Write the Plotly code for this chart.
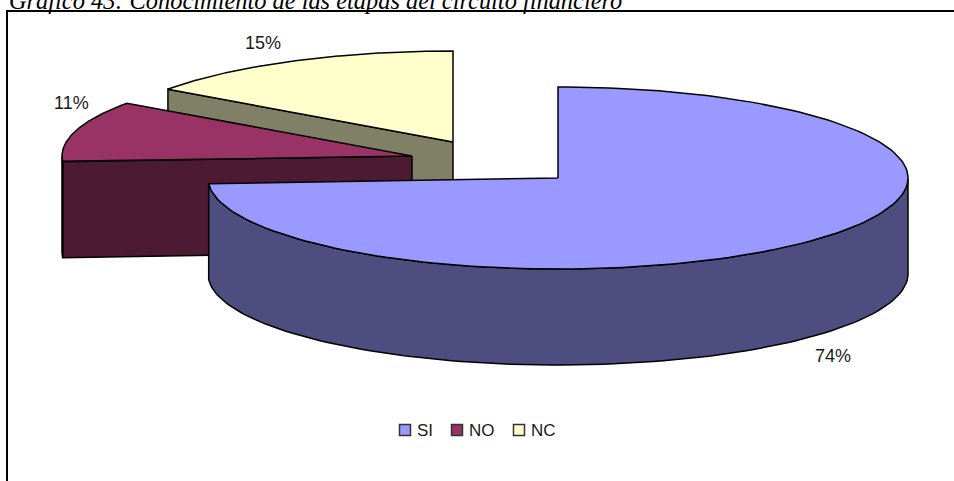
import numpy as np
import plotly.graph_objects as go

categories = ["SI", "NO", "NC"]
values = [74, 10.85, 15.15]
top_colors = ["#9999FF", "#993366", "#FFFFCC"]
wall_colors = ["#4D4D80", "#4D1A33", "#808066"]
TITLE = "Gráfico 43: Conocimiento de las etapas del circuito financiero"

# Projection of the exploded 3D pie, in page pixels
RX, RY, DEPTH = 350, 91, 96
centres = [(558, 178), (412, 156), (453, 142)]
label_pos = [(833, 356), (71, 103), (263, 43)]
legend_pos = [(405, 430), (457, 430), (519, 430)]
FONT = "Liberation Sans"
TEXT = "#1a1a1a"
OUTLINE = "#000000"

angles = np.cumsum([0] + values) / sum(values) * 2 * np.pi


def pt(cx, cy, a):
    return cx + RX * np.sin(a), cy - RY * np.cos(a)


def poly(color, xs, ys):
    return go.Scatter(x=list(xs), y=list(ys), mode="lines", fill="toself", fillcolor=color,
                      line=dict(color=OUTLINE, width=1.5), hoverinfo="skip", showlegend=False)


fig = go.Figure()
for i in [2, 1, 0]:
    cx, cy = centres[i]
    a0, a1 = angles[i], angles[i + 1]
    arc = np.linspace(a0, a1, 160)
    ax, ay = pt(cx, cy, arc)
    # radial cut face that looks towards the viewer
    if i in (1, 2):
        ex, ey = pt(cx, cy, a0)
        fig.add_trace(poly(wall_colors[i], [cx, ex, ex, cx, cx], [cy, ey, ey + DEPTH, cy + DEPTH, cy]))
    # outer rim, only the part facing the viewer
    vis = arc[(arc >= np.pi / 2) & (arc <= 3 * np.pi / 2)]
    if len(vis):
        vx, vy = pt(cx, cy, vis)
        fig.add_trace(poly(wall_colors[i],
                           np.r_[vx, vx[::-1], vx[0]],
                           np.r_[vy, vy[::-1] + DEPTH, vy[0]]))
    fig.add_trace(poly(top_colors[i], np.r_[cx, ax, cx], np.r_[cy, ay, cy]))

for i, name in enumerate(categories):
    fig.add_trace(go.Scatter(x=[legend_pos[i][0]], y=[legend_pos[i][1]], mode="markers",
                             marker=dict(symbol="square", size=11, color=top_colors[i],
                                         line=dict(color="#333333", width=1.5)),
                             hoverinfo="skip", showlegend=False))
    fig.add_annotation(x=legend_pos[i][0] + 10, y=legend_pos[i][1], text=name, showarrow=False,
                       xanchor="left", font=dict(family=FONT, size=17, color=TEXT))
    fig.add_annotation(x=label_pos[i][0], y=label_pos[i][1], text=f"{round(values[i])}%", showarrow=False,
                       font=dict(family=FONT, size=18, color=TEXT))

fig.add_annotation(x=7, y=10, text=f"<i>{TITLE}</i>", showarrow=False, xanchor="left", yanchor="bottom",
                   font=dict(family="Liberation Serif", size=24.4, color="#000000"), yshift=-6)
# Frame: only the top and left edges fall inside the picture
fig.add_shape(type="rect", x0=7, y0=11, x1=970, y1=500, line=dict(color="#000000", width=2))

fig.update_layout(width=954, height=481, margin=dict(l=0, r=0, t=0, b=0),
                  paper_bgcolor="#FFFFFF", plot_bgcolor="#FFFFFF", showlegend=False,
                  xaxis=dict(range=[0, 954], visible=False, fixedrange=True),
                  yaxis=dict(range=[481, 0], visible=False, fixedrange=True))
fig.write_html("out.html", config=dict(displayModeBar=False),
               post_script="document.body.style.margin='0';document.body.style.overflow='hidden';")
